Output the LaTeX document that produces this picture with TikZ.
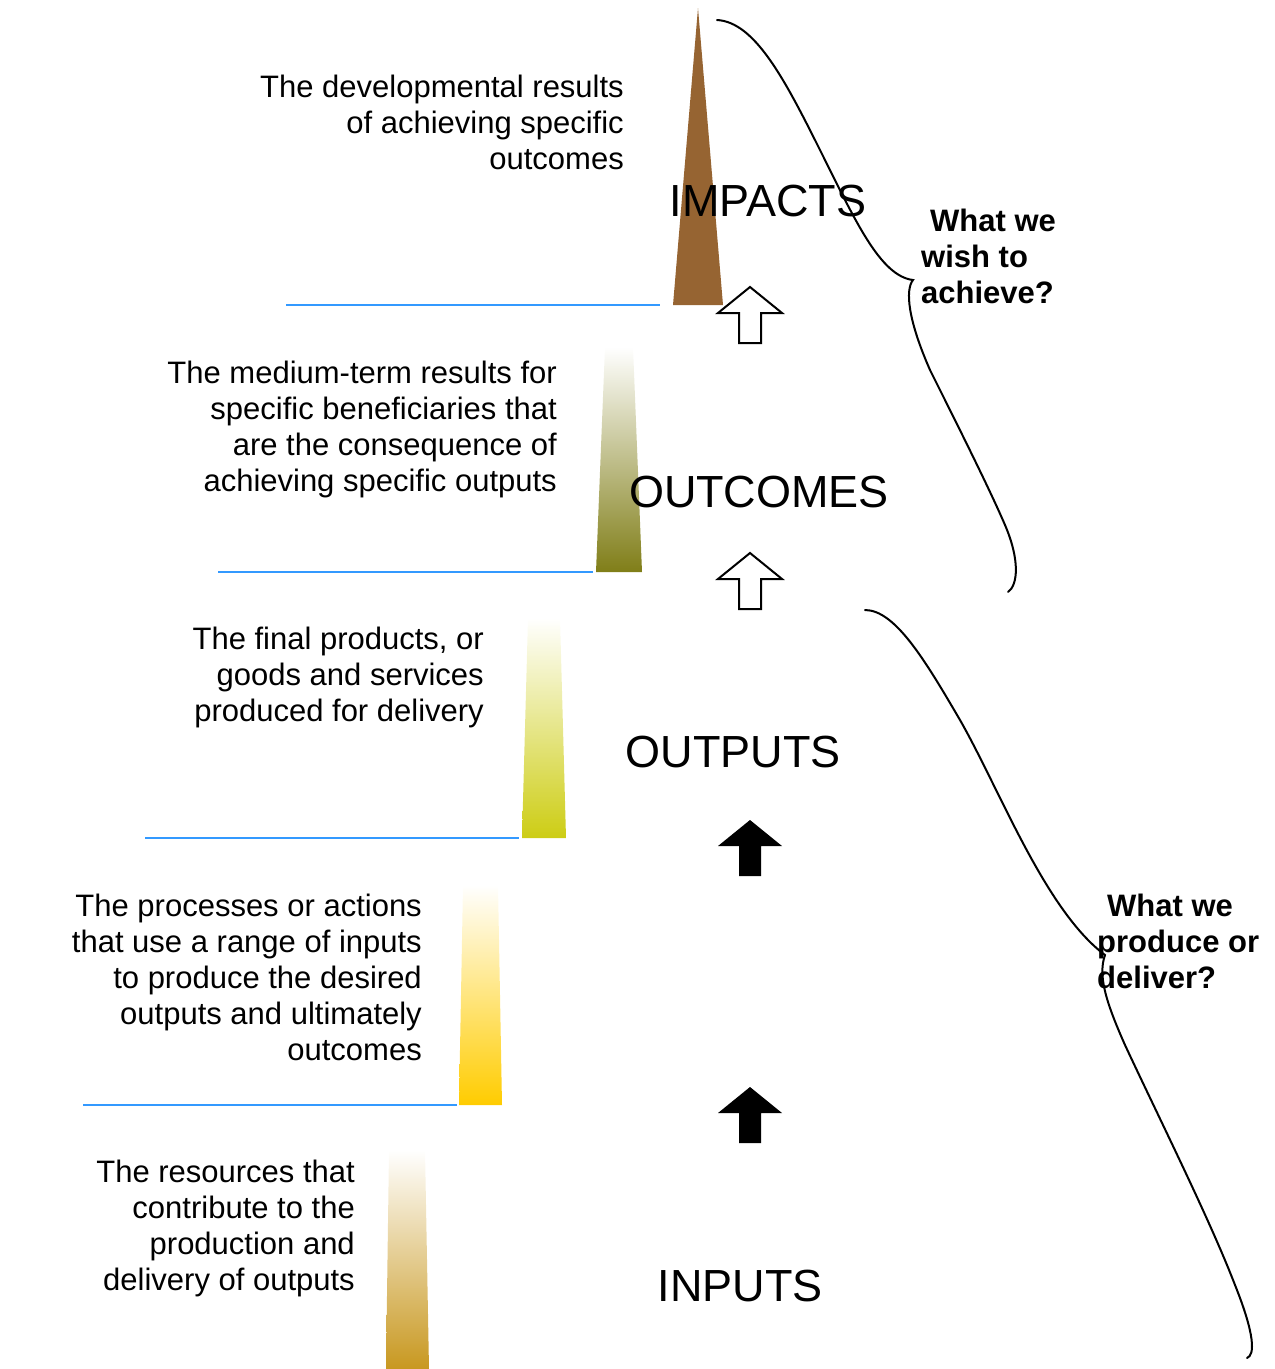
\documentclass[tikz,border=0pt]{standalone}
\usepackage{fontspec}
\setmainfont{Liberation Sans}

\definecolor{impbrown}{RGB}{150,100,50}
\definecolor{outcolive}{RGB}{128,126,24}
\definecolor{outpyellow}{RGB}{205,205,20}
\definecolor{actgold}{RGB}{255,204,0}
\definecolor{inpochre}{RGB}{200,152,32}
\definecolor{lineblue}{RGB}{51,153,255}

\tikzset{
    desc/.style={anchor=north east, inner sep=0pt, align=right, font=\fontsize{31}{36}\selectfont},
    level/.style={inner sep=0pt, font=\fontsize{45}{54}\selectfont},
    question/.style={anchor=north west, inner sep=0pt, align=left, font=\fontsize{31}{36}\selectfont\bfseries},
    divider/.style={draw=lineblue, line width=2pt},
    brace/.style={draw=black, line width=2pt, line cap=round},
    uparrow/.pic={\path[pic actions] (0,0) -- (-32,26) -- (-11,26) -- (-11,56) -- (11,56) -- (11,26) -- (32,26) -- cycle;}
}

\begin{document}
\begin{tikzpicture}[x=1pt, y=-1pt]
        \useasboundingbox (0,0) rectangle (1275,1369);

        % bars
        \fill[impbrown] (698,8) -- (723,305) -- (673,305) -- cycle;
        \shade[top color=white, bottom color=outcolive] (605,347) -- (633,347) -- (642,572) -- (596,572) -- cycle;
        \shade[top color=white, bottom color=outpyellow] (528,618) -- (560,618) -- (566,838) -- (522,838) -- cycle;
        \shade[top color=white, bottom color=actgold] (463,885) -- (498,885) -- (502,1105) -- (459,1105) -- cycle;
        \shade[top color=white, bottom color=inpochre] (389,1150) -- (425,1150) -- (429,1369) -- (386,1369) -- cycle;

        \draw[divider] (286,305) -- (660,305);
        \draw[divider] (218,572) -- (593,572);
        \draw[divider] (145,838) -- (519,838);
        \draw[divider] (83,1105) -- (457,1105);

        \node[desc] (impDesc) at (624,75) {The developmental results\\of achieving specific\\outcomes};
        \node[desc] (outcDesc) at (557,361) {The medium-term results for\\specific beneficiaries that\\are the consequence of\\achieving specific outputs};
        \node[desc] (outpDesc) at (484,627) {The final products, or\\goods and services\\produced for delivery};
        \node[desc] (actDesc) at (422,894) {The processes or actions\\that use a range of inputs\\to produce the desired\\outputs and ultimately\\outcomes};
        \node[desc] (inpDesc) at (355,1160) {The resources that\\contribute to the\\production and\\delivery of outputs};

        \node[level] (impacts) at (768,201) {IMPACTS};
        \node[level] (outcomes) at (759,492) {OUTCOMES};
        \node[level] (outputs) at (733,752) {OUTPUTS};
        \node[level] (inputs) at (740,1286) {INPUTS};

        % arrows between levels
        \pic[draw=black, fill=white, line width=2pt] at (750,287) {uparrow};
        \pic[draw=black, fill=white, line width=2pt] at (750,553) {uparrow};
        \pic[fill=black] at (750,820) {uparrow};
        \pic[fill=black] at (750,1087) {uparrow};

        \node[question] (wish) at (921,209) {\hspace*{9pt}What we\\wish to\\achieve?};
        \node[question] (produce) at (1097,894) {\hspace*{10pt}What we\\produce or\\deliver?};

        % braces
        \draw[brace] (717,20) .. controls (755,22) and (785,80) .. (820,150)
            .. controls (855,220) and (880,276) .. (913,280)
            .. controls (905,290) and (908,320) .. (930,370)
            .. controls (960,430) and (990,490) .. (1005,525)
            .. controls (1020,560) and (1018,585) .. (1008,592);
        \draw[brace] (865,610) .. controls (895,610) and (925,660) .. (960,720)
            .. controls (1000,790) and (1045,910) .. (1105,955)
            .. controls (1098,975) and (1105,1000) .. (1125,1045)
            .. controls (1160,1120) and (1210,1220) .. (1235,1285)
            .. controls (1255,1335) and (1255,1355) .. (1247,1358);
\end{tikzpicture}
\end{document}
